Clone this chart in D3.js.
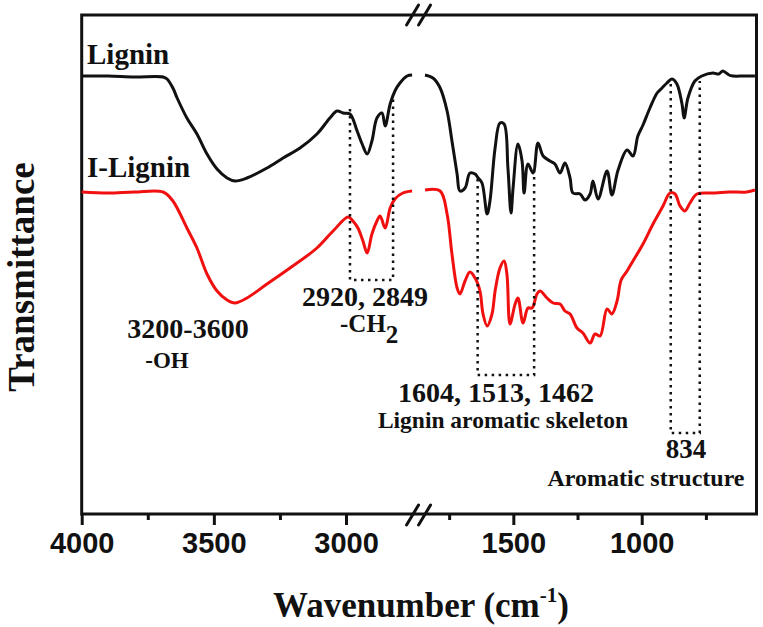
<!DOCTYPE html>
<html>
<head>
<meta charset="utf-8">
<script src="https://cdn.jsdelivr.net/npm/d3@7"></script>
<style>
  body { margin: 0; background: #fff; }
  svg text { font-family: "Liberation Serif", "Times New Roman", serif; font-weight: bold; fill: #111; }
  .axis text { font-family: "Liberation Sans", Arial, sans-serif; font-size: 29px; font-weight: bold; }
</style>
</head>
<body>
<svg id="chart"></svg>
<script>
// FTIR spectra, wavenumber (cm-1) vs transmittance (arbitrary units, offset curves)
const ligninHigh = [
  [4000, 43.8], [3900, 43.8], [3800, 43.7], [3692, 43.7], [3677, 43.5], [3655, 42.6], [3639, 41.6],
  [3602, 39.6], [3564, 38.0], [3526, 36.0], [3488, 34.5], [3450, 33.6], [3420, 33.3], [3375, 33.6],
  [3299, 34.6], [3238, 35.6], [3174, 36.6], [3110, 38.0], [3061, 39.6], [3034, 40.3], [3011, 40.1],
  [2985, 40.0], [2958, 38.3], [2939, 37.0], [2920, 36.0], [2902, 37.3], [2883, 39.6], [2864, 40.1],
  [2852, 38.8], [2833, 41.0], [2815, 42.3], [2796, 43.1], [2769, 43.8], [2750, 43.9]
];
const ligninLow = [
  [1844, 43.9], [1813, 43.6], [1785, 42.6], [1758, 40.3], [1739, 37.3], [1719, 34.0], [1708, 32.3],
  [1688, 32.6], [1669, 34.1], [1649, 34.0], [1637, 33.6], [1622, 33.1], [1602, 30.0], [1591, 31.3],
  [1571, 36.6], [1552, 39.1], [1536, 39.0], [1521, 34.6], [1509, 30.1], [1501, 32.6], [1482, 37.0],
  [1466, 35.3], [1458, 32.1], [1443, 35.0], [1423, 34.1], [1404, 37.1], [1384, 35.8], [1357, 35.3],
  [1338, 35.0], [1318, 34.1], [1299, 35.1], [1279, 33.6], [1268, 32.1], [1240, 32.0], [1221, 31.4],
  [1201, 32.0], [1190, 33.3], [1170, 31.5], [1135, 34.3], [1116, 31.9], [1092, 34.4], [1057, 36.4],
  [1034, 35.8], [1015, 37.8], [995, 38.9], [968, 40.6], [940, 42.1], [921, 42.6], [902, 43.1],
  [882, 43.5], [863, 43.0], [843, 41.0], [835, 39.6], [820, 41.6], [793, 43.3], [766, 43.8],
  [723, 44.1], [700, 44.0], [684, 44.3], [660, 43.9], [645, 43.8], [600, 43.8], [559, 43.8]
];
const iLigninHigh = [
  [4000, 32.2], [3900, 32.1], [3800, 32.2], [3692, 32.2], [3655, 31.3], [3602, 28.6], [3564, 26.6],
  [3526, 24.0], [3488, 22.3], [3450, 21.4], [3420, 21.1], [3375, 21.6], [3299, 23.0], [3212, 24.6],
  [3110, 26.6], [3049, 28.3], [2992, 29.7], [2974, 29.3], [2955, 28.6], [2936, 27.3], [2920, 26.1],
  [2902, 28.0], [2883, 29.3], [2871, 29.8], [2852, 28.6], [2833, 30.6], [2815, 31.5], [2785, 32.1],
  [2750, 32.3]
];
const iLigninLow = [
  [1844, 32.4], [1785, 32.3], [1758, 30.0], [1739, 26.0], [1719, 22.6], [1708, 22.0], [1688, 23.3],
  [1669, 24.2], [1649, 23.6], [1630, 22.3], [1618, 20.0], [1602, 18.8], [1583, 20.0], [1571, 22.3],
  [1552, 24.6], [1536, 25.3], [1525, 24.0], [1513, 19.0], [1493, 21.0], [1482, 21.6], [1462, 19.1],
  [1443, 20.6], [1427, 20.6], [1408, 22.0], [1396, 22.3], [1369, 21.6], [1345, 21.1], [1318, 21.0],
  [1299, 20.3], [1279, 20.0], [1252, 18.6], [1229, 18.1], [1201, 17.1], [1182, 18.0], [1162, 17.8],
  [1135, 20.5], [1116, 20.0], [1096, 21.3], [1080, 23.4], [1057, 24.3], [1034, 25.3], [995, 27.0],
  [956, 29.0], [917, 30.8], [890, 32.1], [870, 32.0], [851, 30.8], [832, 30.3], [812, 31.1],
  [785, 32.0], [723, 32.1], [657, 32.2], [591, 32.2], [559, 32.4]
];

// marked bands: [high wavenumber, low wavenumber, top of left line, top of right line, bottom]
const bands = [
  [2985, 2822, 40.5, 41.5, 23.4],
  [1639, 1419, 33.5, 34.6, 13.9],
  [887, 774, 43.0, 43.3, 8.1]
];

const majorTicks = [4000, 3500, 3000, 1500, 1000];
const minorTicks = [3750, 3250, 1750, 1250, 750];
const wnBreaks = [4000, 2750, 1844, 558];

const width = 763;
const height = 627;
const box = { left: 81.7, right: 756.5, top: 15, bottom: 514 };

const svg = d3.select('#chart')
    .attr('width', width)
    .attr('height', height);

// broken axis: piecewise linear scale, the gap sits between 2750 and 1844
const x = d3.scaleLinear()
    .domain(wnBreaks)
    .range([box.left, 412.1, 425, 755.2]);

const y = d3.scaleLinear()
    .domain([0, 50])
    .range([box.bottom, box.bottom - 500]);

// minor + major ticks
svg.append('g')
    .attr('class', 'axis')
    .attr('transform', `translate(0, ${box.bottom})`)
    .call(d3.axisBottom(x).tickValues(minorTicks).tickSize(6).tickFormat(''))
    .call(g => g.select('.domain').remove());

svg.append('g')
    .attr('class', 'axis')
    .attr('transform', `translate(0, ${box.bottom})`)
    .call(d3.axisBottom(x).tickValues(majorTicks).tickSize(11).tickPadding(7).tickFormat(d3.format('d')))
    .call(g => g.select('.domain').remove());

svg.selectAll('.axis .tick line')
    .attr('stroke', '#111')
    .attr('stroke-width', 3);

// frame
svg.append('rect')
    .attr('x', box.left)
    .attr('y', box.top)
    .attr('width', box.right - box.left)
    .attr('height', box.bottom - box.top)
    .attr('fill', 'none')
    .attr('stroke', '#111')
    .attr('stroke-width', 3);

// break marks
const breakMid = (x(wnBreaks[1]) + x(wnBreaks[2])) / 2;
[box.top, box.bottom + 1].forEach((cy) => {
  [-6, 6].forEach((dx) => {
    svg.append('line')
      .attr('x1', breakMid + dx - 6)
      .attr('y1', cy + 10)
      .attr('x2', breakMid + dx + 6)
      .attr('y2', cy - 10)
      .attr('stroke', '#111')
      .attr('stroke-width', 3)
      .attr('stroke-linecap', 'round');
  });
});

// spectra
const line = d3.line()
    .x(d => x(d[0]))
    .y(d => y(d[1]))
    .curve(d3.curveCatmullRom.alpha(0.5));

[[ligninHigh, '#111'], [ligninLow, '#111'], [iLigninHigh, '#f01010'], [iLigninLow, '#f01010']]
  .forEach(([data, color]) => {
    svg.append('path')
      .datum(data)
      .attr('fill', 'none')
      .attr('stroke', color)
      .attr('stroke-width', 3)
      .attr('stroke-linejoin', 'round')
      .attr('d', line);
  });

// dotted brackets
bands.forEach(([hi, lo, topHi, topLo, bottom]) => {
  const path = d3.path();
  path.moveTo(x(hi), y(topHi));
  path.lineTo(x(hi), y(bottom));
  path.lineTo(x(lo), y(bottom));
  path.lineTo(x(lo), y(topLo));
  svg.append('path')
    .attr('d', path.toString())
    .attr('fill', 'none')
    .attr('stroke', '#111')
    .attr('stroke-width', 2.5)
    .attr('stroke-dasharray', '2.5,4.5');
});

// labels
const label = (txt, lx, ly, size, anchor) => svg.append('text')
    .attr('x', lx)
    .attr('y', ly)
    .attr('font-size', size)
    .attr('text-anchor', anchor || 'middle')
    .text(txt);

label('Lignin', 87, 64, 29, 'start');
label('I-Lignin', 87, 177, 29, 'start');
label('3200-3600', 188, 338, 28);
label('-OH', 167, 368, 23);
label('2920, 2849', 365, 306, 28);
const ch2 = label('-CH', 340, 332, 25, 'start');
ch2.append('tspan').attr('dy', 11).text('2');
label('1604, 1513, 1462', 496, 402, 28);
label('Lignin aromatic skeleton', 503, 428, 23.5);
label('834', 686, 458, 27);
label('Aromatic structure', 646, 486, 24);

// axis titles
const xTitle = label('Wavenumber (cm', 421, 617, 35);
xTitle.append('tspan').attr('dy', -15).attr('font-size', 21).text('-1');
xTitle.append('tspan').attr('dy', 15).text(')');

svg.append('text')
    .attr('transform', 'translate(34, 277) rotate(-90)')
    .attr('text-anchor', 'middle')
    .attr('font-size', 37)
    .text('Transmittance');
</script>
</body>
</html>
